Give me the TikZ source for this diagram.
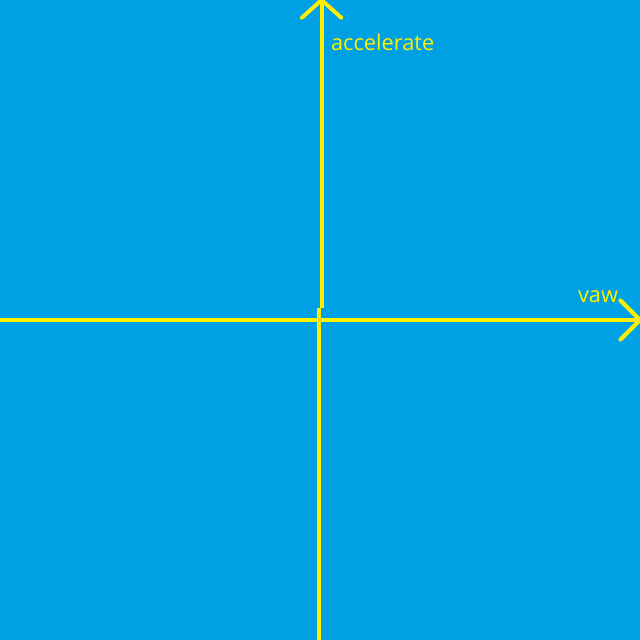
\documentclass[tikz,border=0pt]{standalone}
\usepackage{fontspec}
\setmainfont{Open Sans}
\usetikzlibrary{arrows.meta,positioning,calc}
\definecolor{skyblue}{RGB}{0,160,228}
\definecolor{axisyellow}{RGB}{255,240,0}

\begin{document}
\begin{tikzpicture}[
  axis/.style={draw=axisyellow, line width=2.8pt},
  axislabel/.style={text=axisyellow, inner sep=0pt, font=\fontsize{15.5}{18}\selectfont}]
\fill[skyblue] (0,0) rectangle (16,16);
\useasboundingbox (0,0) rectangle (16,16);
\coordinate (west) at (0,8);
\coordinate (east) at (16,8);
\coordinate (south) at (7.98,0);
\coordinate (center) at (7.98,8.3);
\coordinate (origin) at (8.04,8.3);
\coordinate (north) at (8.04,16);

\draw[axis] (west) -- (east);
\draw[axis] (south) -- (center);
\draw[axis] (origin) -- (north);
% open arrow heads
\draw[axis, line cap=round] ($(east)+(-0.5,0.5)$) -- (east) -- ($(east)+(-0.5,-0.5)$);
\draw[axis, line cap=round] ($(north)+(-0.5,-0.45)$) -- (north) -- ($(north)+(0.5,-0.45)$);

\node[axislabel, anchor=west] (accel) at (8.27,14.95) {accelerate};
\node[axislabel] (yaw) at (14.95,8.58) {vaw};
\end{tikzpicture}
\end{document}
